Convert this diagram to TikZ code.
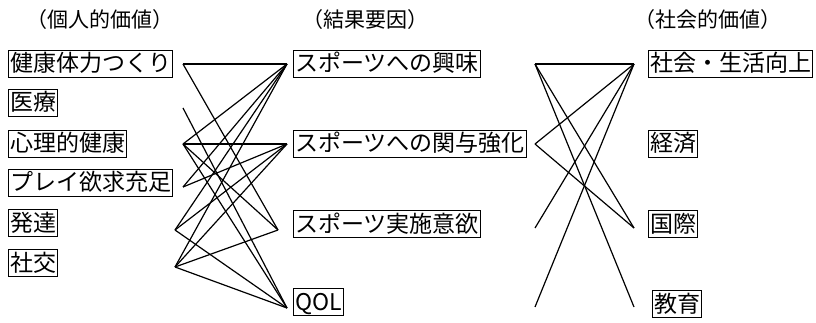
\documentclass[tikz,border=0pt]{standalone}
\usepackage{fontspec}
\newfontfamily\jp{Noto Sans CJK JP}
\tikzset{
  valbox/.style={draw, line width=1.4pt, anchor=west, inner xsep=1.5pt, inner ysep=2.5pt,
    font=\jp\fontsize{23}{23}\selectfont, text height=19pt, text depth=3pt},
  head/.style={font=\jp\fontsize{21}{21}\selectfont},
  link/.style={line width=1.2pt}
}
\begin{document}
\begin{tikzpicture}[x=1pt,y=-1pt]
\useasboundingbox (0,0) rectangle (816,323);
% headers
\node[head] (h1) at (100,20) {（個人的価値）};
\node[head] (h2) at (365,20) {（結果要因）};
\node[head] (h3) at (708,20) {（社会的価値）};
% left
\node[valbox] (p1) at (8,64) {健康体力つくり};
\node[valbox] (p2) at (8,103) {医療};
\node[valbox] (p3) at (8,144) {心理的健康};
\node[valbox] (p4) at (8,183) {プレイ欲求充足};
\node[valbox] (p5) at (8,223) {発達};
\node[valbox] (p6) at (8,263) {社交};
% middle
\node[valbox] (m1n) at (293,64) {スポーツへの興味};
\node[valbox] (m2n) at (293,144) {スポーツへの関与強化};
\node[valbox] (m3n) at (293,224) {スポーツ実施意欲};
\node[valbox] (m4n) at (293,302) {QOL};
% right
\node[valbox] (s1) at (648,64) {社会・生活向上};
\node[valbox] (s2) at (648,144) {経済};
\node[valbox] (s3) at (648,224) {国際};
\node[valbox] (s4) at (652,304) {教育};
% coordinates
\coordinate (L1) at (183,64);
\coordinate (L2) at (183,108);
\coordinate (L3) at (183,144);
\coordinate (L4) at (183,187);
\coordinate (L5) at (175,230);
\coordinate (L6) at (175,267);
\coordinate (M1) at (287,64);
\coordinate (M2) at (287,144);
\coordinate (M3) at (278,230);
\coordinate (M4) at (287,308);
\coordinate (A1) at (535,64);
\coordinate (A2) at (535,144);
\coordinate (A3) at (535,228);
\coordinate (A4) at (535,307);
\coordinate (B1) at (634,64);
\coordinate (B3) at (634,228);
\coordinate (B4) at (634,307);
% left links
\draw[link] (L1) -- (M1);
\draw[link] (L1) -- (M3);
\draw[link] (L2) -- (M4);
\draw[link] (L3) -- (M1);
\draw[link] (L3) -- (M2);
\draw[link] (L3) -- (M3);
\draw[link] (L3) -- (M4);
\draw[link] (L4) -- (M1);
\draw[link] (L4) -- (M2);
\draw[link] (L5) -- (M1);
\draw[link] (L5) -- (M2);
\draw[link] (L5) -- (M4);
\draw[link] (L6) -- (M1);
\draw[link] (L6) -- (M2);
\draw[link] (L6) -- (M3);
\draw[link] (L6) -- (M4);
% right links
\draw[link] (A1) -- (B1);
\draw[link] (A1) -- (B3);
\draw[link] (A1) -- (B4);
\draw[link] (A2) -- (B1);
\draw[link] (A2) -- (B3);
\draw[link] (A3) -- (B1);
\draw[link] (A4) -- (B1);
\end{tikzpicture}
\end{document}
